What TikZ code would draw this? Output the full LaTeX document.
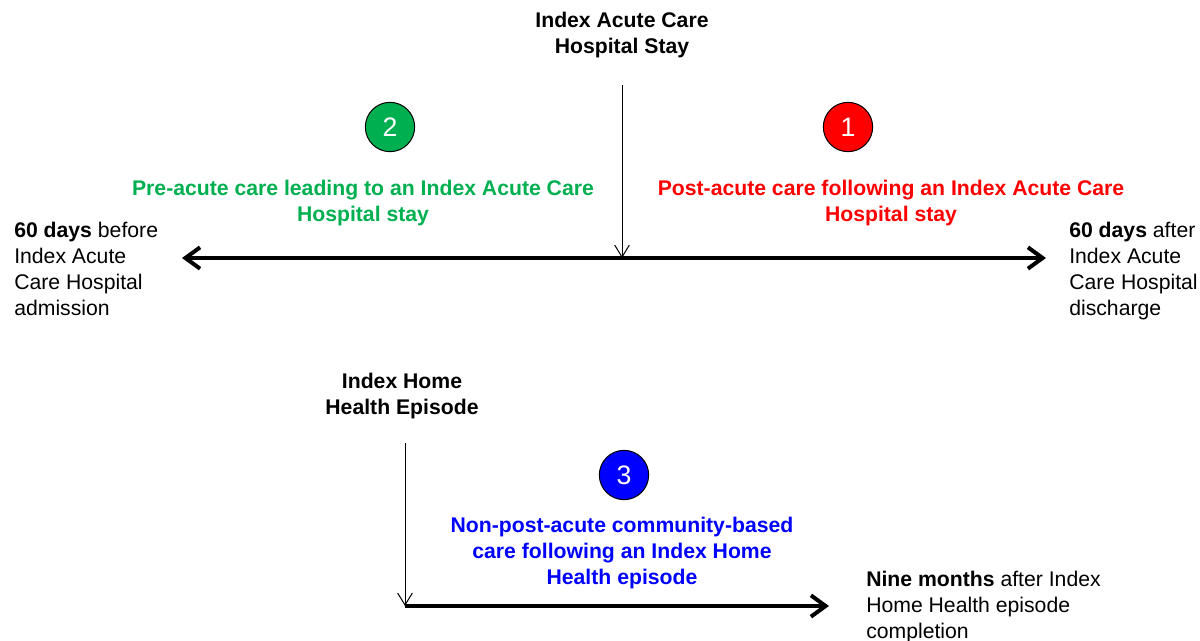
\documentclass[tikz,border=0pt]{standalone}
\usepackage{fontspec}
\setmainfont{Liberation Sans}
\usetikzlibrary{arrows.meta}
\definecolor{pregreen}{RGB}{0,176,80}
\definecolor{postred}{RGB}{255,0,0}
\definecolor{homeblue}{RGB}{0,0,255}
\newcommand{\txtfont}{\fontsize{15.9}{19.5}\selectfont}
\begin{document}
\begin{tikzpicture}[x=0.75pt, y=-0.75pt,
  label/.style={inner sep=0pt, font=\txtfont, align=center},
  sidelabel/.style={inner sep=0pt, font=\txtfont, align=left, anchor=north west},
  number/.style={circle, draw=black, line width=0.75pt, minimum size=37pt, inner sep=0pt,
    text=white, font=\fontsize{20}{20}\selectfont},
  timeline/.style={line width=3pt, {Straight Barb[length=11pt, width=16pt, line width=3pt]}-{Straight Barb[length=11pt, width=16pt, line width=3pt]}},
  marker/.style={line width=0.75pt, -{Straight Barb[length=9pt, width=11pt, line width=0.75pt]}}]
\useasboundingbox (0,0) rectangle (1200,640);

% hospital stay
\node [label, anchor=north, font=\txtfont\bfseries] (acute) at (622,12) {Index Acute Care\\Hospital Stay};
\coordinate (acutetop) at (622,85);
\coordinate (acutemark) at (622,258);
\coordinate (prestart) at (182,258);
\coordinate (postend) at (1046,258);
\draw [timeline] (prestart) -- (postend);
\draw [marker] (acutetop) -- (acutemark);

\node [number, fill=pregreen] (two) at (390,127) {2};
\node [number, fill=postred] (one) at (848,127) {1};
\node [label, anchor=north, text=pregreen, font=\txtfont\bfseries] (pre) at (363,180)
  {Pre-acute care leading to an Index Acute Care\\Hospital stay};
\node [label, anchor=north, text=postred, font=\txtfont\bfseries] (post) at (891,180)
  {Post-acute care following an Index Acute Care\\Hospital stay};
\node [sidelabel] (before) at (14,222)
  {\textbf{60 days} before\\Index Acute\\Care Hospital\\admission};
\node [sidelabel] (after) at (1069,222)
  {\textbf{60 days} after\\Index Acute\\Care Hospital\\discharge};

% home health episode
\node [label, anchor=north, font=\txtfont\bfseries] (home) at (402,373) {Index Home\\Health Episode};
\coordinate (hometop) at (405,443);
\coordinate (homemark) at (405,606);
\coordinate (homeend) at (829,606);
\draw [timeline, -{Straight Barb[length=11pt, width=16pt, line width=3pt]}] (homemark) -- (homeend);
\draw [marker] (hometop) -- (homemark);

\node [number, fill=homeblue] (three) at (624,475) {3};
\node [label, anchor=north, text=homeblue, font=\txtfont\bfseries] (community) at (622,517)
  {Non-post-acute community-based\\care following an Index Home\\Health episode};
\node [sidelabel] (nine) at (866,571)
  {\textbf{Nine months} after Index\\Home Health episode\\completion};
\end{tikzpicture}
\end{document}
